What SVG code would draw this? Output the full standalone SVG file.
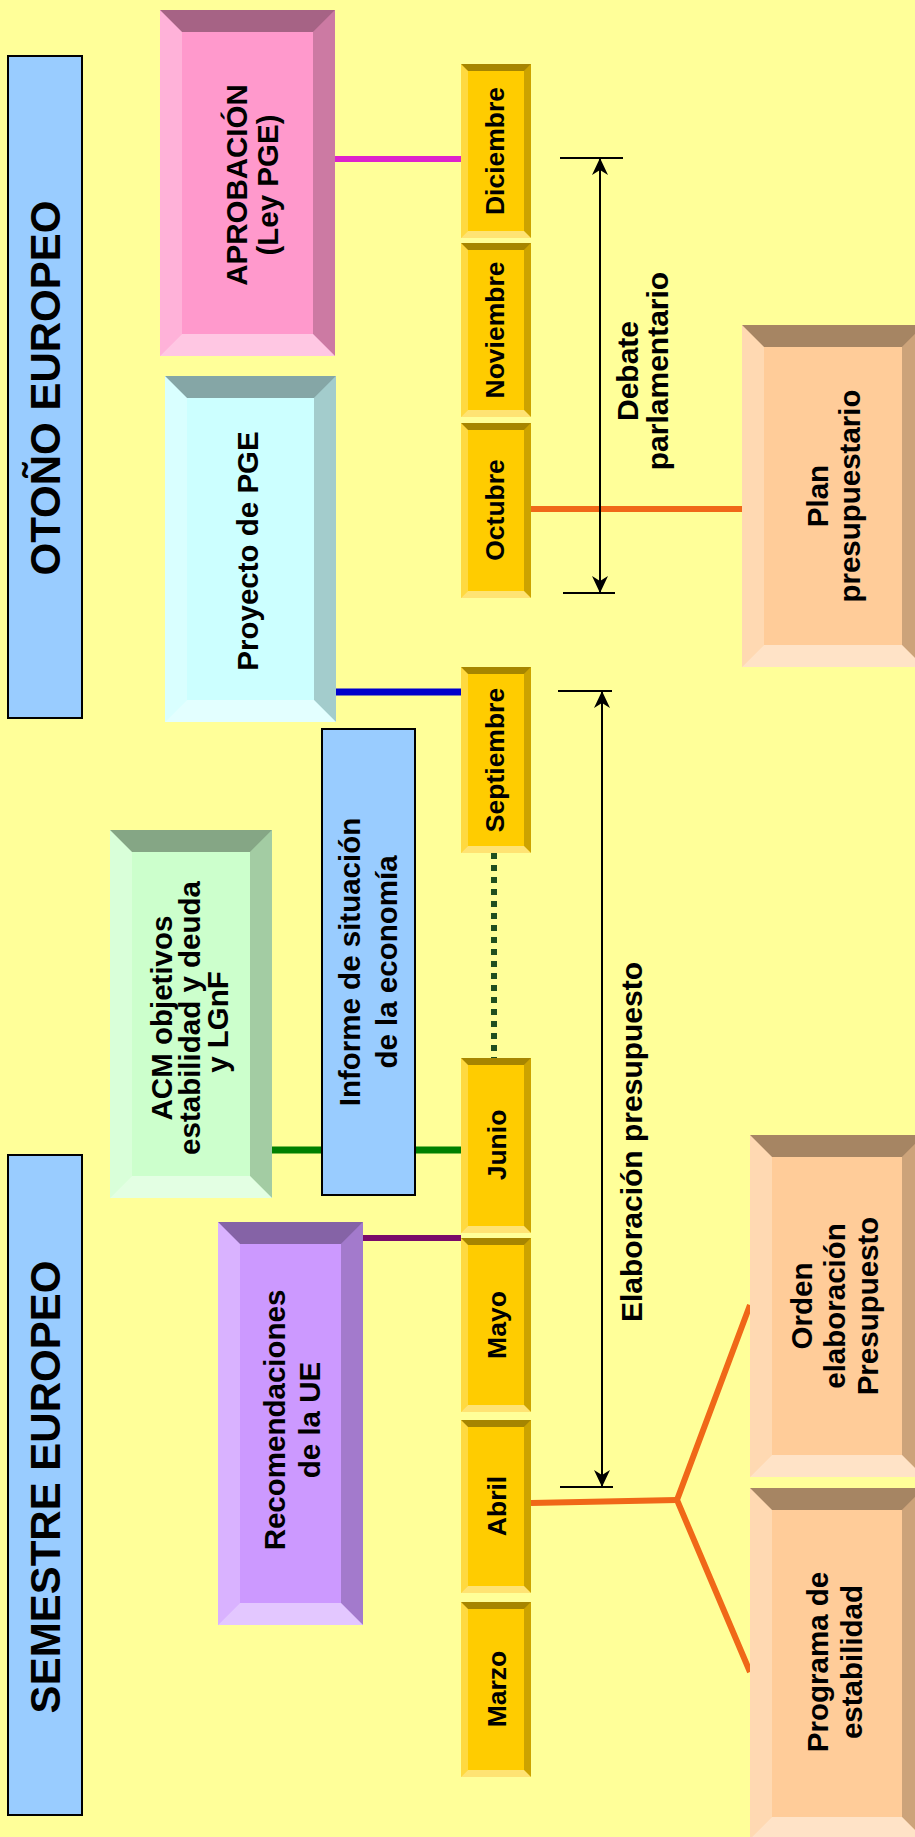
<svg xmlns="http://www.w3.org/2000/svg" width="915" height="1837" viewBox="0 0 915 1837">
<defs>
<style>
.t{font-family:"Liberation Sans",Arial,sans-serif;font-weight:bold;fill:#000;text-anchor:middle}
.tt{font-size:42px}
.tb{font-size:29.5px}
.tm{font-size:26.5px}
.te{font-size:30px}
.bt{fill:#000;fill-opacity:.35}
.br{fill:#000;fill-opacity:.2}
.bl{fill:#fff;fill-opacity:.25}
.bb{fill:#fff;fill-opacity:.45}
.flat{fill:#99ccff;stroke:#000;stroke-width:2}
.mon{fill:#ffcc00}
.ln{fill:none;stroke-width:6}
.ar{fill:none;stroke:#000;stroke-width:2}
</style>
<marker id="ah" viewBox="-18 -9 18 18" refX="0" refY="0" markerWidth="18" markerHeight="18" markerUnits="userSpaceOnUse" orient="auto-start-reverse">
<path d="M0,0 L-17,-8 L-12,0 L-17,8 Z" fill="#000"/>
</marker>
</defs>
<rect x="0" y="0" width="915" height="1837" fill="#ffff99"/>

<g id="connectors">
<path class="ln" d="M335,159 H461" stroke="#dd22cc" stroke-width="5"/>
<path class="ln" d="M336,692 H461" stroke="#0000cc" style="stroke-width:7"/>
<path class="ln" d="M272,1150 H461" stroke="#008000" style="stroke-width:7"/>
<path class="ln" d="M363,1238 H461" stroke="#7a0a6a"/>
<path class="ln" d="M494,853 V1058" stroke="#1f4f1f" stroke-dasharray="6 6"/>
<path class="ln" d="M531,509 H742" stroke="#f06818"/>
<path class="ln" d="M531,1503 L677,1500" stroke="#f06818"/>
<path class="ln" d="M750,1305 L677,1500 L750,1672" stroke="#f06818"/>
<path class="ar" d="M600,158 V593" marker-start="url(#ah)" marker-end="url(#ah)"/>
<path class="ar" d="M560,158 H623 M563,593 H615"/>
<path class="ar" d="M602,691 V1487" marker-start="url(#ah)" marker-end="url(#ah)"/>
<path class="ar" d="M558,691 H612 M560,1487 H613"/>
<text class="t te" transform="translate(638,371) rotate(-90)">Debate</text>
<text class="t te" transform="translate(668,371) rotate(-90)">parlamentario</text>
<text class="t te" transform="translate(642,1142) rotate(-90)">Elaboración presupuesto</text>
</g>

<g id="title-otono">
<rect class="flat" x="8" y="56" width="74" height="662"/>
<text class="t tt" transform="translate(60,388) rotate(-90)">OTOÑO EUROPEO</text>
</g>
<g id="title-semestre">
<rect class="flat" x="8" y="1155" width="74" height="660"/>
<text class="t tt" transform="translate(60,1487) rotate(-90)">SEMESTRE EUROPEO</text>
</g>

<g id="aprobacion">
<rect x="160" y="10" width="175" height="346" fill="#ff99cc"/>
<path class="bt" d="M160,10 H335 L313,32 H182 Z"/>
<path class="br" d="M335,10 V356 L313,334 V32 Z"/>
<path class="bb" d="M160,356 H335 L313,334 H182 Z"/>
<path class="bl" d="M160,10 V356 L182,334 V32 Z"/>
<text class="t tb" transform="translate(247,185) rotate(-90)">APROBACIÓN</text>
<text class="t tb" transform="translate(278,185) rotate(-90)">(Ley PGE)</text>
</g>

<g id="proyecto">
<rect x="165" y="376" width="171" height="346" fill="#ccffff"/>
<path class="bt" d="M165,376 H336 L314,398 H187 Z"/>
<path class="br" d="M336,376 V722 L314,700 V398 Z"/>
<path class="bb" d="M165,722 H336 L314,700 H187 Z"/>
<path class="bl" d="M165,376 V722 L187,700 V398 Z"/>
<text class="t tb" transform="translate(258,551) rotate(-90)">Proyecto de PGE</text>
</g>

<g id="acm">
<rect x="110" y="830" width="162" height="368" fill="#ccffcc"/>
<path class="bt" d="M110,830 H272 L250,852 H132 Z"/>
<path class="br" d="M272,830 V1198 L250,1176 V852 Z"/>
<path class="bb" d="M110,1198 H272 L250,1176 H132 Z"/>
<path class="bl" d="M110,830 V1198 L132,1176 V852 Z"/>
<text class="t tb" transform="translate(172,1018) rotate(-90)">ACM objetivos</text>
<text class="t tb" transform="translate(200,1018) rotate(-90)">estabilidad y deuda</text>
<text class="t tb" transform="translate(228,1022) rotate(-90)">y LGnF</text>
</g>

<g id="informe">
<rect class="flat" x="322" y="729" width="93" height="466"/>
<text class="t tb" transform="translate(360,962) rotate(-90)">Informe de situación</text>
<text class="t tb" transform="translate(397,962) rotate(-90)">de la economía</text>
</g>

<g id="recomendaciones">
<rect x="218" y="1222" width="145" height="403" fill="#cc99ff"/>
<path class="bt" d="M218,1222 H363 L341,1244 H240 Z"/>
<path class="br" d="M363,1222 V1625 L341,1603 V1244 Z"/>
<path class="bb" d="M218,1625 H363 L341,1603 H240 Z"/>
<path class="bl" d="M218,1222 V1625 L240,1603 V1244 Z"/>
<text class="t tb" transform="translate(285,1420) rotate(-90)">Recomendaciones</text>
<text class="t tb" transform="translate(320,1420) rotate(-90)">de la UE</text>
</g>

<g id="plan">
<rect x="742" y="325" width="182" height="342" fill="#ffcc99"/>
<path class="bt" d="M742,325 H924 L902,347 H764 Z"/>
<path class="br" d="M924,325 V667 L902,645 V347 Z"/>
<path class="bb" d="M742,667 H924 L902,645 H764 Z"/>
<path class="bl" d="M742,325 V667 L764,645 V347 Z"/>
<text class="t tb" transform="translate(828,496) rotate(-90)">Plan</text>
<text class="t tb" transform="translate(860,496) rotate(-90)">presupuestario</text>
</g>

<g id="orden">
<rect x="750" y="1135" width="174" height="342" fill="#ffcc99"/>
<path class="bt" d="M750,1135 H924 L902,1157 H772 Z"/>
<path class="br" d="M924,1135 V1477 L902,1455 V1157 Z"/>
<path class="bb" d="M750,1477 H924 L902,1455 H772 Z"/>
<path class="bl" d="M750,1135 V1477 L772,1455 V1157 Z"/>
<text class="t tb" transform="translate(812,1306) rotate(-90)">Orden</text>
<text class="t tb" transform="translate(845,1306) rotate(-90)">elaboración</text>
<text class="t tb" transform="translate(878,1306) rotate(-90)">Presupuesto</text>
</g>

<g id="programa">
<rect x="750" y="1488" width="174" height="351" fill="#ffcc99"/>
<path class="bt" d="M750,1488 H924 L902,1510 H772 Z"/>
<path class="br" d="M924,1488 V1839 L902,1817 V1510 Z"/>
<path class="bb" d="M750,1839 H924 L902,1817 H772 Z"/>
<path class="bl" d="M750,1488 V1839 L772,1817 V1510 Z"/>
<text class="t tb" transform="translate(828,1662) rotate(-90)">Programa de</text>
<text class="t tb" transform="translate(862,1662) rotate(-90)">estabilidad</text>
</g>

<g id="m-diciembre">
<rect class="mon" x="461" y="64" width="70" height="174"/>
<path class="bt" d="M461,64 H531 L524,71 H468 Z"/><path class="br" d="M531,64 V238 L524,231 V71 Z"/><path class="bb" d="M461,238 H531 L524,231 H468 Z"/><path class="bl" d="M461,64 V238 L468,231 V71 Z"/>
<text class="t tm" transform="translate(504,151) rotate(-90)">Diciembre</text>
</g>
<g id="m-noviembre">
<rect class="mon" x="461" y="243" width="70" height="174"/>
<path class="bt" d="M461,243 H531 L524,250 H468 Z"/><path class="br" d="M531,243 V417 L524,410 V250 Z"/><path class="bb" d="M461,417 H531 L524,410 H468 Z"/><path class="bl" d="M461,243 V417 L468,410 V250 Z"/>
<text class="t tm" transform="translate(504,330) rotate(-90)">Noviembre</text>
</g>
<g id="m-octubre">
<rect class="mon" x="461" y="423" width="70" height="175"/>
<path class="bt" d="M461,423 H531 L524,430 H468 Z"/><path class="br" d="M531,423 V598 L524,591 V430 Z"/><path class="bb" d="M461,598 H531 L524,591 H468 Z"/><path class="bl" d="M461,423 V598 L468,591 V430 Z"/>
<text class="t tm" transform="translate(504,510) rotate(-90)">Octubre</text>
</g>
<g id="m-septiembre">
<rect class="mon" x="461" y="667" width="70" height="186"/>
<path class="bt" d="M461,667 H531 L524,674 H468 Z"/><path class="br" d="M531,667 V853 L524,846 V674 Z"/><path class="bb" d="M461,853 H531 L524,846 H468 Z"/><path class="bl" d="M461,667 V853 L468,846 V674 Z"/>
<text class="t tm" transform="translate(504,760) rotate(-90)">Septiembre</text>
</g>
<g id="m-junio">
<rect class="mon" x="461" y="1058" width="70" height="175"/>
<path class="bt" d="M461,1058 H531 L524,1065 H468 Z"/><path class="br" d="M531,1058 V1233 L524,1226 V1065 Z"/><path class="bb" d="M461,1233 H531 L524,1226 H468 Z"/><path class="bl" d="M461,1058 V1233 L468,1226 V1065 Z"/>
<text class="t tm" transform="translate(506,1145) rotate(-90)">Junio</text>
</g>
<g id="m-mayo">
<rect class="mon" x="461" y="1238" width="70" height="174"/>
<path class="bt" d="M461,1238 H531 L524,1245 H468 Z"/><path class="br" d="M531,1238 V1412 L524,1405 V1245 Z"/><path class="bb" d="M461,1412 H531 L524,1405 H468 Z"/><path class="bl" d="M461,1238 V1412 L468,1405 V1245 Z"/>
<text class="t tm" transform="translate(506,1325) rotate(-90)">Mayo</text>
</g>
<g id="m-abril">
<rect class="mon" x="461" y="1420" width="70" height="173"/>
<path class="bt" d="M461,1420 H531 L524,1427 H468 Z"/><path class="br" d="M531,1420 V1593 L524,1586 V1427 Z"/><path class="bb" d="M461,1593 H531 L524,1586 H468 Z"/><path class="bl" d="M461,1420 V1593 L468,1586 V1427 Z"/>
<text class="t tm" transform="translate(506,1506) rotate(-90)">Abril</text>
</g>
<g id="m-marzo">
<rect class="mon" x="461" y="1602" width="70" height="175"/>
<path class="bt" d="M461,1602 H531 L524,1609 H468 Z"/><path class="br" d="M531,1602 V1777 L524,1770 V1609 Z"/><path class="bb" d="M461,1777 H531 L524,1770 H468 Z"/><path class="bl" d="M461,1602 V1777 L468,1770 V1609 Z"/>
<text class="t tm" transform="translate(506,1689) rotate(-90)">Marzo</text>
</g>
</svg>
